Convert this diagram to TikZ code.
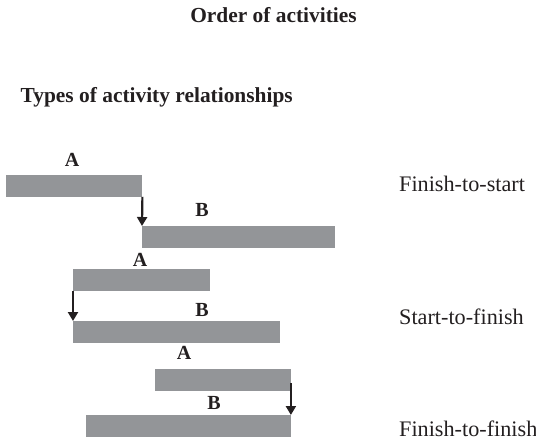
\documentclass[tikz,border=0pt]{standalone}
\usepackage{fontspec}
\setmainfont{Liberation Serif}
\usetikzlibrary{arrows.meta}
\definecolor{bargray}{RGB}{147,149,152}
\definecolor{ink}{RGB}{35,31,32}
\tikzset{
  bar/.style={fill=bargray, draw=none, inner sep=0pt, anchor=north west, minimum height=21.5pt},
  lbl/.style={font=\fontsize{20}{24}\selectfont\bfseries, text=ink, inner sep=0pt},
  head/.style={font=\fontsize{21.4}{25}\selectfont\bfseries, text=ink, inner sep=0pt},
  rel/.style={font=\fontsize{22.2}{26}\selectfont, text=ink, inner sep=0pt, anchor=west},
  link/.style={draw=ink, line width=2.2pt, -{Triangle[length=9pt,width=10pt]}}
}
\begin{document}
\begin{tikzpicture}[x=1pt, y=-1pt]
\useasboundingbox (0,0) rectangle (536,442);

% headings
\node[head] (title) at (273.5,15) {Order of activities};
\node[head, anchor=west] (types) at (20.5,97) {Types of activity relationships};

% finish-to-start
\node[bar, minimum width=136pt] (a1) at (6,175) {};
\node[bar, minimum width=193pt] (b1) at (142,226) {};
\node[lbl] (la1) at (72,160) {A};
\node[lbl] (lb1) at (202,210) {B};
\draw[link] (a1.south east) -- (b1.north west);
\node[rel] (fs) at (399,184) {Finish-to-start};

% start-to-finish
\node[bar, minimum width=137pt] (a2) at (73,269) {};
\node[bar, minimum width=207pt] (b2) at (73,321) {};
\node[lbl] (la2) at (140,260) {A};
\node[lbl] (lb2) at (202,310) {B};
\draw[link] (a2.south west) -- (b2.north west);
\node[rel] (sf) at (399,317) {Start-to-finish};

% finish-to-finish
\node[bar, minimum width=136pt] (a3) at (155,369) {};
\node[bar, minimum width=205pt] (b3) at (86,415) {};
\node[lbl] (la3) at (184,353) {A};
\node[lbl] (lb3) at (214,403) {B};
\draw[link] ([shift={(-0.5,3)}]a3.east) -- ([xshift=-0.5pt]b3.north east);
\node[rel] (ff) at (399,429) {Finish-to-finish};
\end{tikzpicture}
\end{document}
